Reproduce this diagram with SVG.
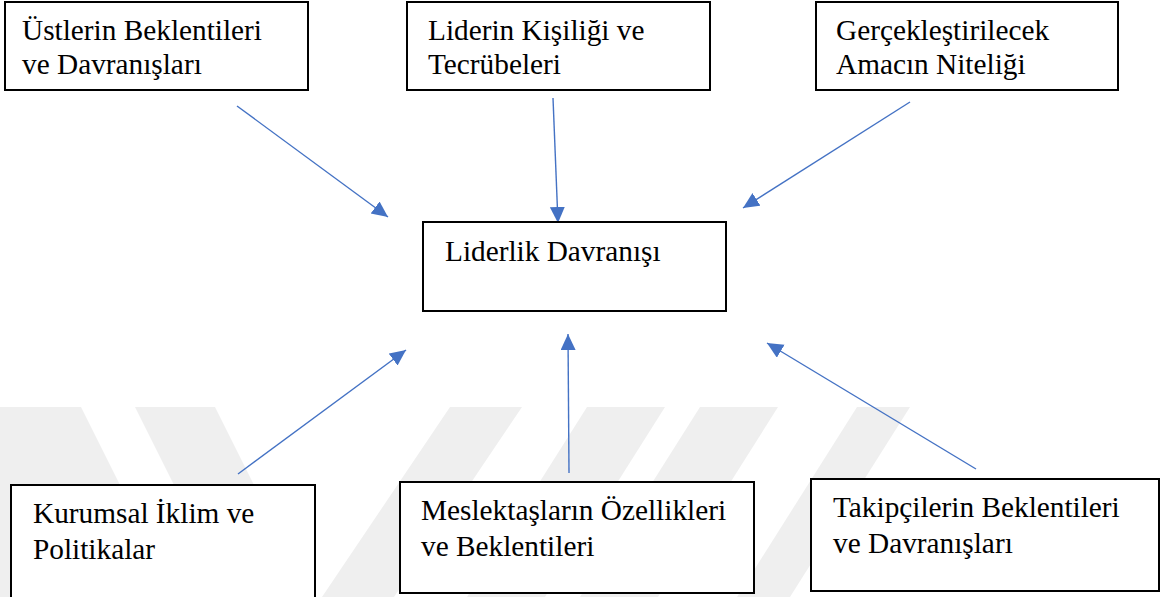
<svg xmlns="http://www.w3.org/2000/svg" width="1161" height="597" viewBox="0 0 1161 597">
  <defs>
    <marker id="ah" markerUnits="userSpaceOnUse" markerWidth="18" markerHeight="16" refX="16" refY="7.5" orient="auto">
      <path d="M0,0 L16,7.5 L0,15 Z" fill="#4472C4"/>
    </marker>
    <style>
      .box { fill: #ffffff; stroke: #000000; stroke-width: 2; }
      .t { font-family: "Liberation Serif", "Times New Roman", serif; font-size: 29.3px; fill: #000000; }
      .conn { stroke: #4472C4; stroke-width: 1.4; fill: none; marker-end: url(#ah); }
      .wm { fill: #efefef; }
    </style>
  </defs>
  <rect x="0" y="0" width="1161" height="597" fill="#ffffff"/>
  <g id="watermark">
    <polygon class="wm" points="0,407 81,407 176,597 95,597 0,597"/>
    <polygon class="wm" points="135,407 215,407 310,597 230,597"/>
    <polygon class="wm" points="450,407 522,407 394,597 322,597"/>
    <polygon class="wm" points="587,407 665,407 545,597 467,597"/>
    <polygon class="wm" points="700,407 778,407 658,597 580,597"/>
    <polygon class="wm" points="857,407 910,407 790,597 737,597"/>
  </g>
  <g id="connectors">
    <line class="conn" x1="237" y1="106" x2="388" y2="217"/>
    <line class="conn" x1="553" y1="98" x2="558" y2="223"/>
    <line class="conn" x1="910" y1="102" x2="743" y2="208"/>
    <line class="conn" x1="238" y1="474" x2="406" y2="350"/>
    <line class="conn" x1="569" y1="473" x2="568" y2="334"/>
    <line class="conn" x1="976" y1="469" x2="767" y2="343"/>
  </g>
  <g id="n1">
    <rect class="box" x="5" y="2" width="303" height="88"/>
    <text class="t" x="22" y="40">Üstlerin Beklentileri</text>
    <text class="t" x="22" y="74">ve Davranışları</text>
  </g>
  <g id="n2">
    <rect class="box" x="407" y="2" width="303" height="88"/>
    <text class="t" x="428" y="40">Liderin Kişiliği ve</text>
    <text class="t" x="428" y="74">Tecrübeleri</text>
  </g>
  <g id="n3">
    <rect class="box" x="816" y="2" width="302" height="88"/>
    <text class="t" x="836" y="40">Gerçekleştirilecek</text>
    <text class="t" x="836" y="74">Amacın Niteliği</text>
  </g>
  <g id="center">
    <rect class="box" x="423" y="222" width="303" height="89"/>
    <text class="t" x="445" y="261">Liderlik Davranışı</text>
  </g>
  <g id="n4">
    <rect class="box" x="11" y="485" width="304" height="113"/>
    <text class="t" x="33" y="523">Kurumsal İklim ve</text>
    <text class="t" x="33" y="559">Politikalar</text>
  </g>
  <g id="n5">
    <rect class="box" x="400" y="482" width="354" height="111"/>
    <text class="t" x="421" y="520">Meslektaşların Özellikleri</text>
    <text class="t" x="421" y="556">ve Beklentileri</text>
  </g>
  <g id="n6">
    <rect class="box" x="811" y="479" width="348" height="112"/>
    <text class="t" x="833" y="517">Takipçilerin Beklentileri</text>
    <text class="t" x="833" y="553">ve Davranışları</text>
  </g>
</svg>
